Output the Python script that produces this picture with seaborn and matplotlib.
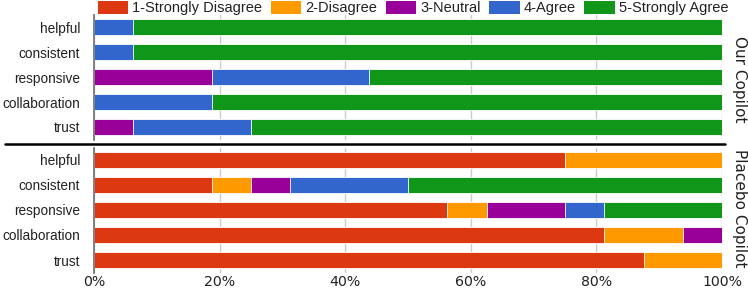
import matplotlib
matplotlib.use("Agg")
import matplotlib.pyplot as plt
from matplotlib.lines import Line2D
from matplotlib.patches import Patch
import pandas as pd
import seaborn as sns

# survey counts per answer level (16 participants)
questions = ["helpful", "consistent", "responsive", "collaboration", "trust"]
levels = ["1-Strongly Disagree", "2-Disagree", "3-Neutral", "4-Agree", "5-Strongly Agree"]
colors = ["#DC3912", "#FF9900", "#990099", "#3366CC", "#109618"]
n_participants = 16

our_counts = {
    "helpful":       [0, 0, 0, 1, 15],
    "consistent":    [0, 0, 0, 1, 15],
    "responsive":    [0, 0, 3, 4, 9],
    "collaboration": [0, 0, 0, 3, 13],
    "trust":         [0, 0, 1, 3, 12],
}
placebo_counts = {
    "helpful":       [12, 4, 0, 0, 0],
    "consistent":    [3, 1, 1, 3, 8],
    "responsive":    [9, 1, 2, 1, 3],
    "collaboration": [13, 2, 1, 0, 0],
    "trust":         [14, 2, 0, 0, 0],
}
groups = ["Our Copilot", "Placebo Copilot"]
xticks = [0, 20, 40, 60, 80, 100]


def to_long(counts):
    rows = []
    for q in questions:
        cum = 0
        for lvl, c in zip(levels, counts[q]):
            cum += c
            rows.append({"question": q, "level": lvl, "count": c,
                         "cum": cum / n_participants * 100})
    return pd.DataFrame(rows)


sns.set_style("white")
plt.rcParams["font.family"] = ["Liberation Sans", "DejaVu Sans"]

fig = plt.figure(figsize=(7.48, 2.88), dpi=100)
W, H = 748, 288
left, right = 94 / W, 722 / W
ax_top = fig.add_axes([left, 1 - 139.5 / H, right - left, 125 / H])
ax_bot = fig.add_axes([left, 1 - 272.5 / H, right - left, 125 / H])

for ax, counts in zip([ax_top, ax_bot], [our_counts, placebo_counts]):
    df = to_long(counts)
    # draw cumulative bars from the last level backwards so shorter ones sit on top
    for lvl, col in reversed(list(zip(levels, colors))):
        sub = df[(df["level"] == lvl) & (df["count"] > 0)]
        if sub.empty:
            continue
        sns.barplot(data=sub, x="cum", y="question", order=questions,
                    orient="h", color=col, width=0.62, errorbar=None,
                    edgecolor="white", linewidth=0.6, saturation=1, ax=ax)
    ax.set_xlim(0, 100)
    ax.set_ylim(4.5, -0.5)
    ax.set_xticks(xticks)
    ax.set_xlabel("")
    ax.set_ylabel("")
    ax.grid(axis="x", color="#cccccc", lw=1.0, zorder=0)
    ax.set_axisbelow(True)
    for s in ["top", "right", "bottom"]:
        ax.spines[s].set_visible(False)
    ax.spines["left"].set_color("#777777")
    ax.spines["left"].set_linewidth(1.3)
    ax.tick_params(axis="both", length=0)
    ax.tick_params(axis="y", pad=10, labelsize=9.8, labelcolor="#222222")

ax_top.set_xticklabels([])
ax_bot.set_xticklabels([f"{t}%" for t in xticks], fontsize=10.2,
                       family="DejaVu Sans", color="#222222")
ax_bot.tick_params(axis="x", pad=1.5)

# separator between the two groups
fig.add_artist(Line2D([5 / W, 725 / W], [0.5, 0.5], color="black", lw=1.8))

# group labels on the right
fig.text(740 / W, 1 - 79 / H, groups[0], rotation=-90, ha="center", va="center",
         fontsize=11, family="DejaVu Sans", color="#222222")
fig.text(740 / W, 1 - 208 / H, groups[1], rotation=-90, ha="center", va="center",
         fontsize=11, family="DejaVu Sans", color="#222222")

handles = [Patch(facecolor=c, edgecolor="none") for c in colors]
fig.legend(handles, levels, loc="center", bbox_to_anchor=(413 / W, 1 - 8 / H),
           ncol=5, frameon=False, fontsize=10.5, handlelength=2.1,
           handleheight=1.0, handletextpad=0.25, columnspacing=0.6,
           borderpad=0, labelcolor="#222222")

fig.savefig("out.png", dpi=100)
